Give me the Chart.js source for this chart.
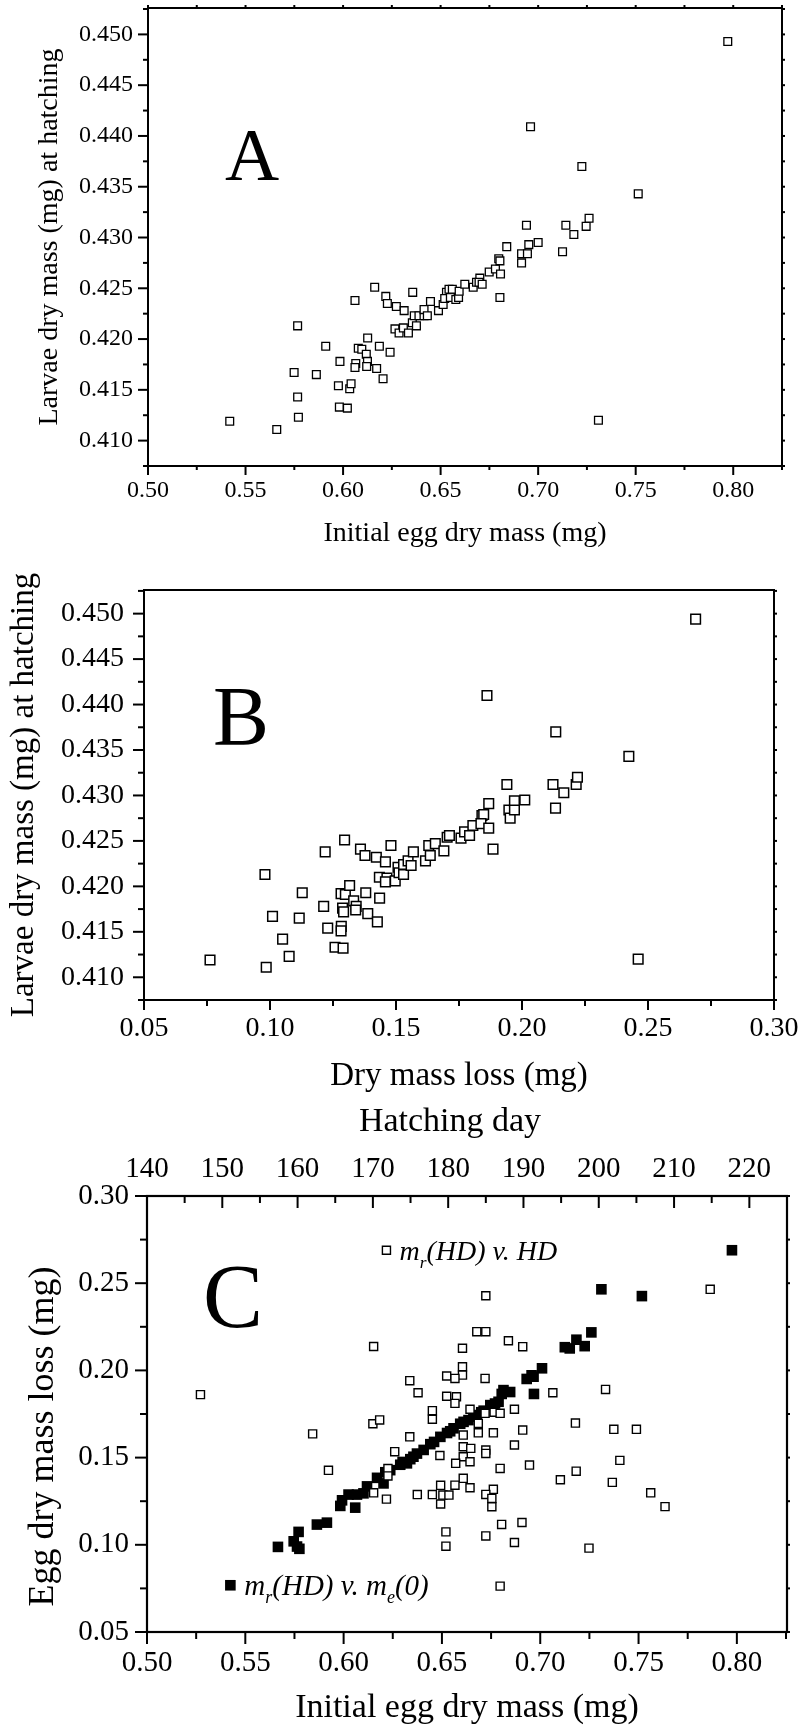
<!DOCTYPE html>
<html lang="en">
<head>
  <meta charset="UTF-8" />
  <title>Egg and larval dry mass</title>
  <script src="https://cdn.jsdelivr.net/npm/chart.js"></script>
  <style>
    body { margin: 0; background: #fff; overflow: hidden; }
    #page { position: relative; width: 799px; height: 1725px; }
    canvas { position: absolute; left: 0; }
    #chartA { top: 0; }
    #chartB { top: 560px; }
    #chartC { top: 1090px; }
  </style>
</head>
<body>
<div id="page">
  <canvas id="chartA" width="799" height="560"></canvas>
  <canvas id="chartB" width="799" height="540"></canvas>
  <canvas id="chartC" width="799" height="635"></canvas>
</div>

<script>
  const SERIF = "'Liberation Serif', 'Times New Roman', serif";

  // ---- Panel A: initial egg dry mass vs larvae dry mass ----
  const aEggMass = [0.5419,0.5660,0.5767,0.5749,0.5767,0.5771,0.5863,0.5911,0.5984,0.5976,
    0.5981,0.6022,0.6034,0.6041,0.6061,0.6065,0.6061,0.6078,0.6096,0.6119,
    0.6126,0.6125,0.6121,0.6172,0.6205,0.6186,0.6241,0.6162,0.6219,0.6227,
    0.6273,0.6313,0.6266,0.6287,0.6309,0.6335,0.6357,0.6355,0.6376,0.6365,
    0.6389,0.6415,0.6415,0.6432,0.6448,0.6489,0.6513,0.6530,0.6543,0.6521,
    0.6550,0.6560,0.6578,0.6592,0.6595,0.6624,0.6667,0.6684,0.6701,0.6697,
    0.6713,0.6749,0.6781,0.6798,0.6804,0.6807,0.6804,0.6839,0.6915,0.6915,
    0.6940,0.6945,0.6952,0.7000,0.6961,0.7125,0.7142,0.7183,0.7224,0.7246,
    0.7261,0.7309,0.7513,0.7972];
  const aLarvaMass = [0.4119,0.4111,0.4213,0.4167,0.4143,0.4123,0.4165,0.4193,0.4178,0.4154,
    0.4133,0.4132,0.4151,0.4156,0.4238,0.4176,0.4172,0.4191,0.4190,0.4185,
    0.4201,0.4178,0.4173,0.4171,0.4161,0.4193,0.4187,0.4251,0.4242,0.4235,
    0.4232,0.4228,0.4210,0.4206,0.4211,0.4206,0.4246,0.4216,0.4213,0.4223,
    0.4223,0.4223,0.4229,0.4223,0.4237,0.4228,0.4234,0.4246,0.4249,0.4240,
    0.4241,0.4249,0.4239,0.4241,0.4247,0.4254,0.4251,0.4256,0.4260,0.4256,
    0.4254,0.4266,0.4269,0.4279,0.4277,0.4264,0.4241,0.4291,0.4284,0.4275,
    0.4312,0.4284,0.4293,0.4295,0.4409,0.4286,0.4312,0.4303,0.4370,0.4311,
    0.4319,0.4120,0.4343,0.4493];
  const aXTicks = [0.50, 0.55, 0.60, 0.65, 0.70, 0.75, 0.80];
  const aYTicks = [0.410, 0.415, 0.420, 0.425, 0.430, 0.435, 0.440, 0.445, 0.450];

  // ---- Panel B: dry mass loss vs larvae dry mass ----
  const bMassLoss = [0.0762,0.0985,0.0980,0.1010,0.1050,0.1076,0.1116,0.1128,0.1213,0.1219,
    0.1229,0.1258,0.1283,0.1282,0.1290,0.1296,0.1282,0.1299,0.1316,0.1288,
    0.1292,0.1332,0.1342,0.1340,0.1380,0.1388,0.1426,0.1435,0.1359,0.1377,
    0.1422,0.1458,0.1480,0.1434,0.1464,0.1458,0.1497,0.1508,0.1512,0.1530,
    0.1530,0.1548,0.1560,0.1569,0.1617,0.1630,0.1636,0.1656,0.1690,0.1703,
    0.1712,0.1758,0.1772,0.1792,0.1805,0.1841,0.1848,0.1837,0.1868,0.1868,
    0.1885,0.1861,0.1940,0.1948,0.1953,0.1970,0.1970,0.2011,0.2123,0.2133,
    0.2134,0.2166,0.2215,0.2220,0.2424,0.2461,0.2689];
  const bLarvaMass = [0.4119,0.4111,0.4213,0.4167,0.4142,0.4123,0.4165,0.4193,0.4178,0.4238,
    0.4154,0.4133,0.4156,0.4151,0.4132,0.4251,0.4192,0.4191,0.4201,0.4176,
    0.4172,0.4184,0.4178,0.4174,0.4193,0.4170,0.4161,0.4187,0.4241,0.4234,
    0.4232,0.4227,0.4245,0.4210,0.4209,0.4205,0.4206,0.4221,0.4215,0.4213,
    0.4224,0.4228,0.4223,0.4238,0.4228,0.4245,0.4234,0.4247,0.4239,0.4254,
    0.4256,0.4253,0.4260,0.4256,0.4267,0.4278,0.4279,0.4269,0.4291,0.4264,
    0.4241,0.4410,0.4312,0.4284,0.4275,0.4294,0.4284,0.4295,0.4312,0.4286,
    0.4370,0.4303,0.4312,0.4320,0.4343,0.4120,0.4494];
  const bXTicks = [0.05, 0.10, 0.15, 0.20, 0.25, 0.30];
  const bYTicks = aYTicks;

  // ---- Panel C: egg dry mass loss vs initial egg mass (filled) and hatching day (open) ----
  const cEggMass = [0.5424,0.5666,0.5746,0.5771,0.5775,0.5763,0.5864,0.5915,0.5983,0.5992,
    0.6025,0.6059,0.6068,0.6101,0.6119,0.6170,0.6203,0.6212,0.6237,0.6288,
    0.6300,0.6322,0.6339,0.6355,0.6373,0.6407,0.6441,0.6460,0.6492,0.6526,
    0.6542,0.6559,0.6593,0.6610,0.6635,0.6660,0.6678,0.6700,0.6712,0.6746,
    0.6770,0.6788,0.6804,0.6813,0.6847,0.6931,0.6956,0.6966,0.7009,0.6968,
    0.7125,0.7150,0.7184,0.7226,0.7260,0.7311,0.7517,0.7975];
  const cLossMass = [0.0768,0.0988,0.1020,0.1074,0.0977,0.0990,0.1116,0.1127,0.1223,0.1255,
    0.1288,0.1213,0.1288,0.1295,0.1335,0.1384,0.1352,0.1416,0.1428,0.1459,
    0.1475,0.1467,0.1491,0.1505,0.1523,0.1544,0.1577,0.1590,0.1619,0.1641,
    0.1651,0.1668,0.1694,0.1705,0.1715,0.1735,0.1744,0.1760,0.1769,0.1801,
    0.1810,0.1820,0.1865,0.1887,0.1876,0.1951,0.1972,0.1964,0.2012,0.1865,
    0.2133,0.2126,0.2176,0.2139,0.2218,0.2465,0.2426,0.2689];
  const cHatchDay = [147.1,162.0,164.1,170.1,170.0,170.9,170.1,171.8,172.0,172.0,
    172.9,174.9,176.0,174.9,175.9,177.9,177.9,177.9,179.0,179.0,
    178.9,179.8,179.8,179.7,179.7,171.8,
    185.0,183.8,185.0,188.0,189.9,181.9,181.9,181.9,180.9,184.9,
    181.1,180.9,182.9,184.9,186.1,186.9,188.8,184.0,184.0,186.0,
    189.9,182.0,182.0,183.0,185.0,185.0,188.8,182.0,181.0,182.9,
    186.9,190.8,182.0,180.9,182.9,186.0,185.0,179.3,180.1,185.8,
    185.8,187.1,189.8,185.0,188.8,
    214.8,193.9,200.9,196.9,202.0,205.0,202.8,194.9,197.0,201.8,206.9,208.8,198.7,186.9];
  const cLossDay = [0.1861,0.1636,0.1427,0.2137,0.1694,0.1716,0.1298,0.1262,0.1437,0.1395,
    0.1534,0.1941,0.1872,0.1619,0.1288,0.1769,0.1720,0.1288,0.1341,0.1234,
    0.1512,0.1968,0.1852,0.1074,0.0992,0.2689,
    0.2428,0.2222,0.2222,0.2170,0.2136,0.2127,0.2021,0.1973,0.1954,0.1954,
    0.1849,0.1811,0.1777,0.1754,0.1760,0.1754,0.1777,0.1696,0.1642,0.1642,
    0.1658,0.1629,0.1562,0.1553,0.1543,0.1524,0.1572,0.1505,0.1467,0.1476,
    0.1438,0.1457,0.1381,0.1342,0.1327,0.1318,0.1289,0.1285,0.1285,0.1266,
    0.1218,0.1117,0.1128,0.1051,0.1013,
    0.2465,0.1872,0.1891,0.1698,0.1662,0.1662,0.1484,0.1373,0.1422,0.1358,0.1298,0.1219,0.0981,0.0763];
  const cXTicks = [0.50, 0.55, 0.60, 0.65, 0.70, 0.75, 0.80];
  const cDayTicks = [140, 150, 160, 170, 180, 190, 200, 210, 220];
  const cYTicks = [0.05, 0.10, 0.15, 0.20, 0.25, 0.30];

  const zip = (xs, ys) => xs.map((x, i) => ({ x, y: ys[i] }));

  // frame + major/minor tick marks drawn from the scales
  const frameTicks = {
    id: 'frameTicks',
    afterDraw(chart, args, opts) {
      const { ctx, chartArea: a } = chart;
      ctx.save();
      ctx.strokeStyle = '#000';
      ctx.lineWidth = opts.lineWidth;
      ctx.strokeRect(a.left, a.top, a.right - a.left, a.bottom - a.top);
      ctx.lineWidth = 2;
      for (const t of opts.marks) {
        const scale = chart.scales[t.scale];
        const major = scale.ticks.map(k => k.value);
        const step = major[1] - major[0];
        const minor = [];
        for (let v = major[0] - step / 2; v <= scale.max + 1e-9; v += step) {
          if (v >= scale.min - 1e-9) minor.push(v);
        }
        const sign = t.dir === 'in' ? -1 : 1;
        const draw = (v, len) => {
          const p = scale.getPixelForValue(v);
          ctx.beginPath();
          if (t.side === 'bottom') { ctx.moveTo(p, a.bottom); ctx.lineTo(p, a.bottom + sign * len); }
          if (t.side === 'top') { ctx.moveTo(p, a.top); ctx.lineTo(p, a.top - sign * len); }
          if (t.side === 'left') { ctx.moveTo(a.left, p); ctx.lineTo(a.left - sign * len, p); }
          if (t.side === 'right') { ctx.moveTo(a.right, p); ctx.lineTo(a.right + sign * len, p); }
          ctx.stroke();
        };
        major.forEach(v => draw(v, t.major));
        minor.forEach(v => draw(v, t.minor));
      }
      ctx.restore();
    }
  };

  function drawRich(ctx, parts, x, y, size) {
    for (const [txt, sub] of parts) {
      ctx.font = `italic ${sub ? size * 0.62 : size}px ${SERIF}`;
      ctx.fillText(txt, x, sub ? y + size * 0.3 : y);
      x += ctx.measureText(txt).width;
    }
  }

  // panel letter and in-plot legend text
  const panelText = {
    id: 'panelText',
    afterDraw(chart, args, opts) {
      const { ctx, chartArea: a } = chart;
      ctx.save();
      ctx.fillStyle = '#000';
      ctx.textBaseline = 'alphabetic';
      ctx.font = `${opts.size}px ${SERIF}`;
      ctx.fillText(opts.letter, a.left + opts.dx, a.top + opts.dy);
      (opts.notes || []).forEach(n => {
        const px = chart.scales[n.xAxis].getPixelForValue(n.at[0]) + n.dx;
        const py = chart.scales.y.getPixelForValue(n.at[1]) + n.dy;
        drawRich(ctx, n.parts, px, py, n.size);
      });
      ctx.restore();
    }
  };

  function axis(o) {
    return {
      type: 'linear',
      position: o.position,
      min: o.min,
      max: o.max,
      afterBuildTicks: s => { s.ticks = o.ticks.map(v => ({ value: v })); },
      afterFit: s => {
        if (o.position === 'left') s.width = o.size; else s.height = o.size;
        s.paddingLeft = s.paddingRight = s.paddingTop = s.paddingBottom = 0;
      },
      grid: { display: false, drawTicks: false },
      border: { display: false },
      ticks: {
        autoSkip: false, maxRotation: 0, color: '#000', padding: o.pad,
        font: { family: SERIF, size: o.tickSize },
        callback: v => v.toFixed(o.digits)
      },
      title: {
        display: true, text: o.title, color: '#000',
        font: { family: SERIF, size: o.titleSize }, padding: o.titlePad
      }
    };
  }

  const baseOptions = {
    responsive: false,
    animation: false,
    devicePixelRatio: 1,
    events: []
  };

  // ---- Chart A ----
  new Chart(document.getElementById('chartA'), {
    type: 'scatter',
    data: {
      datasets: [{
        data: zip(aEggMass, aLarvaMass),
        pointStyle: 'rect', pointRadius: 5.5, pointBorderWidth: 1.3,
        pointBackgroundColor: '#fff', pointBorderColor: '#000'
      }]
    },
    options: {
      ...baseOptions,
      layout: { padding: { top: 8, right: 17, left: 0, bottom: 0 } },
      scales: {
        x: axis({ position: 'bottom', min: 0.50, max: 0.825, ticks: aXTicks, size: 94, pad: 10, digits: 2,
          tickSize: 24, title: 'Initial egg dry mass (mg)', titleSize: 28, titlePad: { top: 0, bottom: 10 } }),
        y: axis({ position: 'left', min: 0.4075, max: 0.4526, ticks: aYTicks, size: 148, pad: 15, digits: 3,
          tickSize: 24, title: 'Larvae dry mass (mg) at hatching', titleSize: 28, titlePad: { top: 33, bottom: 0 } })
      },
      plugins: {
        legend: { display: false },
        tooltip: { enabled: false },
        frameTicks: {
          lineWidth: 2,
          marks: [
            { scale: 'x', side: 'bottom', major: 9, minor: 4, dir: 'out' },
            { scale: 'x', side: 'top', major: 3, minor: 3, dir: 'out' },
            { scale: 'y', side: 'left', major: 10, minor: 5, dir: 'out' },
            { scale: 'y', side: 'right', major: 3, minor: 3, dir: 'out' }
          ]
        },
        panelText: { letter: 'A', size: 75, dx: 77, dy: 172 }
      }
    },
    plugins: [frameTicks, panelText]
  });

  // ---- Chart B ----
  new Chart(document.getElementById('chartB'), {
    type: 'scatter',
    data: {
      datasets: [{
        data: zip(bMassLoss, bLarvaMass),
        pointStyle: 'rect', pointRadius: 6.8, pointBorderWidth: 1.5,
        pointBackgroundColor: '#fff', pointBorderColor: '#000'
      }]
    },
    options: {
      ...baseOptions,
      layout: { padding: { top: 30, right: 25, left: 0, bottom: 0 } },
      scales: {
        x: axis({ position: 'bottom', min: 0.05, max: 0.30, ticks: bXTicks, size: 100, pad: 12, digits: 2,
          tickSize: 28, title: 'Dry mass loss (mg)', titleSize: 33, titlePad: { top: 0, bottom: 4 } }),
        y: axis({ position: 'left', min: 0.4075, max: 0.4526, ticks: bYTicks, size: 144, pad: 20, digits: 3,
          tickSize: 28, title: 'Larvae dry mass (mg) at hatching', titleSize: 33, titlePad: { top: 5, bottom: 0 } })
      },
      plugins: {
        legend: { display: false },
        tooltip: { enabled: false },
        frameTicks: {
          lineWidth: 2,
          marks: [
            { scale: 'x', side: 'bottom', major: 10, minor: 6, dir: 'out' },
            { scale: 'y', side: 'left', major: 11, minor: 6, dir: 'out' },
            { scale: 'y', side: 'right', major: 3, minor: 3, dir: 'out' }
          ]
        },
        panelText: { letter: 'B', size: 84, dx: 69, dy: 155 }
      }
    },
    plugins: [frameTicks, panelText]
  });

  // ---- Chart C ----
  new Chart(document.getElementById('chartC'), {
    type: 'scatter',
    data: {
      datasets: [
        {
          label: 'mr(HD) v. HD',
          xAxisID: 'x2',
          data: zip(cHatchDay, cLossDay),
          pointStyle: 'rect', pointRadius: 5.7, pointBorderWidth: 1.4,
          pointBackgroundColor: '#fff', pointBorderColor: '#000'
        },
        {
          label: 'mr(HD) v. me(0)',
          xAxisID: 'x',
          data: zip(cEggMass, cLossMass),
          pointStyle: 'rect', pointRadius: 7.5, pointBorderWidth: 0,
          pointBackgroundColor: '#000', pointBorderColor: '#000'
        }
      ]
    },
    options: {
      ...baseOptions,
      layout: { padding: { top: 0, right: 12, left: 0, bottom: 0 } },
      scales: {
        x2: axis({ position: 'top', min: 140, max: 225, ticks: cDayTicks, size: 106, pad: 9, digits: 0,
          tickSize: 29, title: 'Hatching day\u00a0\u00a0\u00a0\u00a0', titleSize: 34, titlePad: { top: 12, bottom: 0 } }),
        x: axis({ position: 'bottom', min: 0.50, max: 0.8255, ticks: cXTicks, size: 93, pad: 14, digits: 2,
          tickSize: 29, title: 'Initial egg dry mass (mg)', titleSize: 34, titlePad: { top: 0, bottom: -3 } }),
        y: axis({ position: 'left', min: 0.05, max: 0.30, ticks: cYTicks, size: 147, pad: 18, digits: 2,
          tickSize: 29, title: 'Egg dry mass loss (mg)\u00a0\u00a0\u00a0\u00a0\u00a0', titleSize: 36, titlePad: { top: 22, bottom: 0 } })
      },
      plugins: {
        legend: { display: false },
        tooltip: { enabled: false },
        frameTicks: {
          lineWidth: 2.2,
          marks: [
            { scale: 'x', side: 'bottom', major: 12, minor: 7, dir: 'out' },
            { scale: 'x2', side: 'top', major: 12, minor: 7, dir: 'in' },
            { scale: 'y', side: 'left', major: 12, minor: 7, dir: 'out' },
            { scale: 'y', side: 'right', major: 3, minor: 3, dir: 'out' }
          ]
        },
        panelText: {
          letter: 'C', size: 90, dx: 56, dy: 131,
          notes: [
            { xAxis: 'x2', at: [cHatchDay[25], cLossDay[25]], dx: 13, dy: 9.5, size: 28,
              parts: [['m'], ['r', 1], ['(HD) v. HD']] },
            { xAxis: 'x', at: [cEggMass[0], cLossMass[0]], dx: 14, dy: 9.5, size: 29,
              parts: [['m'], ['r', 1], ['(HD) v. m'], ['e', 1], ['(0)']] }
          ]
        }
      }
    },
    plugins: [frameTicks, panelText]
  });
</script>
</body>
</html>
